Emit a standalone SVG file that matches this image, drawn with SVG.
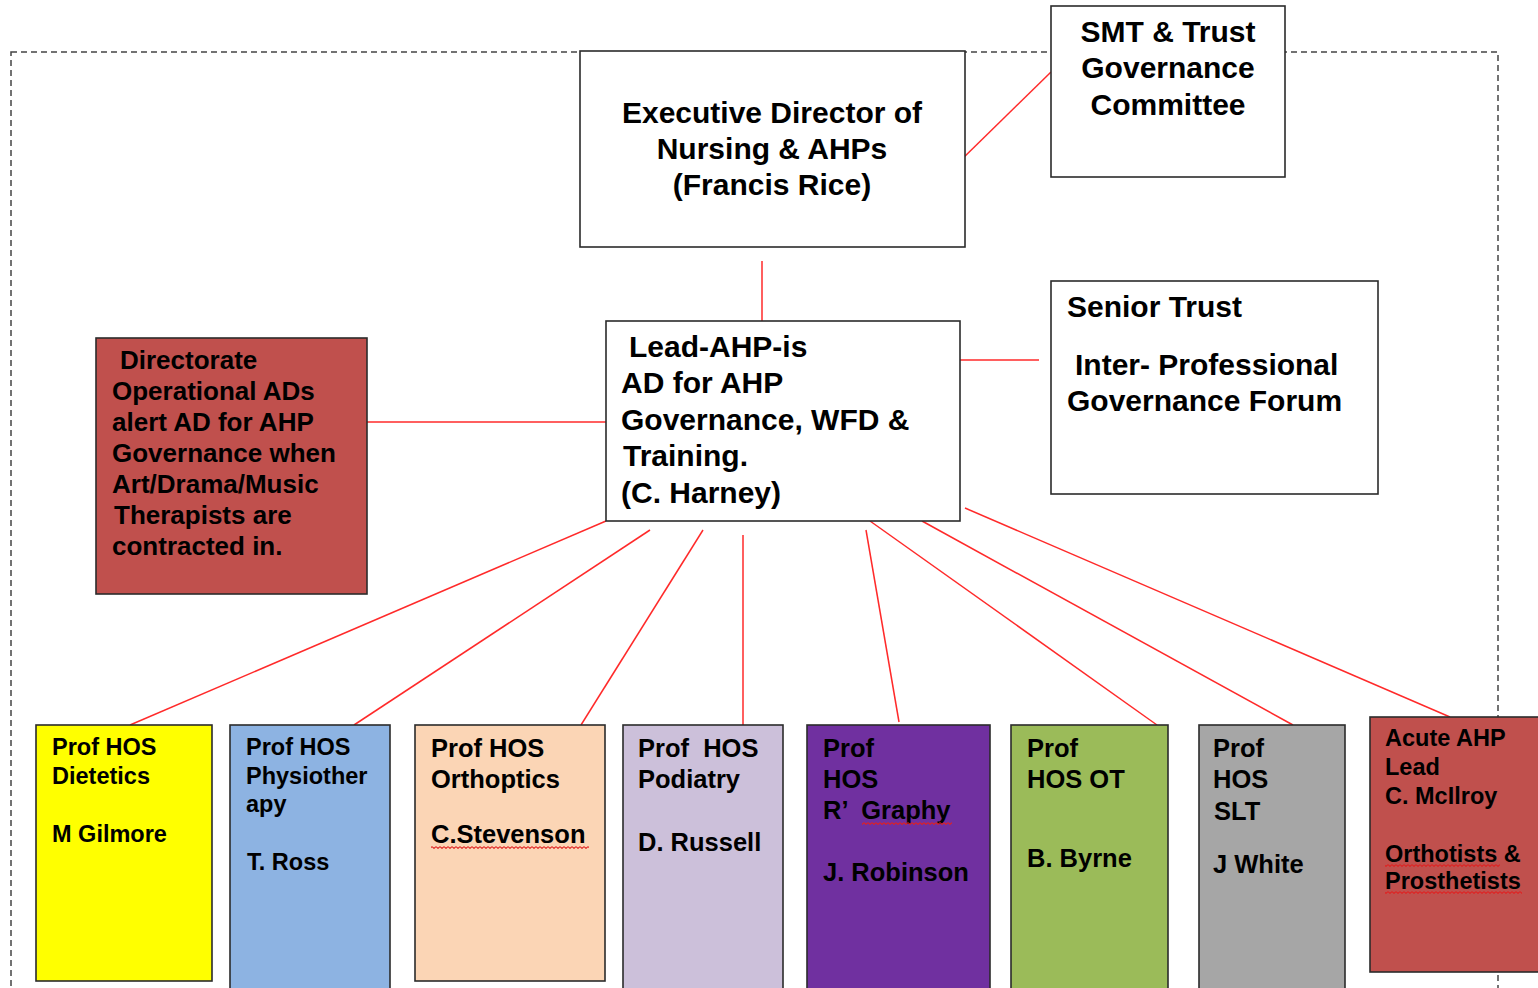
<svg xmlns="http://www.w3.org/2000/svg" width="1538" height="988" viewBox="0 0 1538 988">
<style>
.box{stroke:#2b2b2b;stroke-width:1.6}
.t{font-family:"Liberation Sans",Arial,sans-serif;font-weight:bold;fill:#000}
.big{font-size:30px}
.mid{font-size:26px}
.sm{font-size:23.5px}
.md{font-size:25.5px}
.c{text-anchor:middle}
.con{stroke:#FF2A2A;stroke-width:1.5;fill:none}
.frame{fill:none;stroke:#444;stroke-width:1.5;stroke-dasharray:6 4}
.wavy{fill:url(#wave)}
</style>
<defs>
<pattern id="wave" width="4" height="3" patternUnits="userSpaceOnUse">
<polyline points="0,0.6 2,2.4 4,0.6" fill="none" stroke="#E02020" stroke-width="1.1"/>
</pattern>
</defs>
<rect width="1538" height="988" fill="#fff"/>
<rect class="frame" x="11" y="52" width="1487" height="960"/>

<g id="connectors">
<line class="con" x1="958" y1="163" x2="1051" y2="72"/>
<line class="con" x1="762" y1="261" x2="762" y2="321"/>
<line class="con" x1="960" y1="360" x2="1039" y2="360"/>
<line class="con" x1="367" y1="422" x2="606" y2="422"/>
<line class="con" x1="606" y1="521" x2="130" y2="725"/>
<line class="con" x1="650" y1="530" x2="354" y2="725"/>
<line class="con" x1="703" y1="530" x2="581" y2="725"/>
<line class="con" x1="743" y1="535" x2="743" y2="725"/>
<line class="con" x1="866" y1="530" x2="899" y2="722"/>
<line class="con" x1="870" y1="521" x2="1157" y2="725"/>
<line class="con" x1="922" y1="521" x2="1293" y2="725"/>
<line class="con" x1="965" y1="508" x2="1450" y2="717"/>
</g>

<g id="exec">
<rect class="box" x="580" y="51" width="385" height="196" fill="#fff"/>
<text class="t big c" x="772" y="123">Executive Director of</text>
<text class="t big c" x="772" y="159">Nursing &amp; AHPs</text>
<text class="t big c" x="772" y="195">(Francis Rice)</text>
</g>

<g id="smt">
<rect class="box" x="1051" y="6" width="234" height="171" fill="#fff"/>
<text class="t big c" x="1168" y="42">SMT &amp; Trust</text>
<text class="t big c" x="1168" y="78">Governance</text>
<text class="t big c" x="1168" y="115">Committee</text>
</g>

<g id="lead">
<rect class="box" x="606" y="321" width="354" height="200" fill="#fff"/>
<text class="t big" x="629" y="357">Lead-AHP-is</text>
<text class="t big" x="621" y="393">AD for AHP</text>
<text class="t big" x="621" y="430">Governance, WFD &amp;</text>
<text class="t big" x="623" y="466">Training.</text>
<text class="t big" x="621" y="503">(C. Harney)</text>
</g>

<g id="senior">
<rect class="box" x="1051" y="281" width="327" height="213" fill="#fff"/>
<text class="t big" x="1067" y="317">Senior Trust</text>
<text class="t big" x="1075" y="375">Inter- Professional</text>
<text class="t big" x="1067" y="411">Governance Forum</text>
</g>

<g id="directorate">
<rect class="box" x="96" y="338" width="271" height="256" fill="#C0504D"/>
<text class="t mid" x="120" y="369">Directorate</text>
<text class="t mid" x="112" y="400">Operational ADs</text>
<text class="t mid" x="112" y="431">alert AD for AHP</text>
<text class="t mid" x="112" y="462">Governance when</text>
<text class="t mid" x="112" y="493">Art/Drama/Music</text>
<text class="t mid" x="114" y="524">Therapists are</text>
<text class="t mid" x="112" y="555">contracted in.</text>
</g>

<g id="dietetics">
<rect class="box" x="36" y="725" width="176" height="256" fill="#FFFF00"/>
<text class="t sm" x="52" y="755">Prof HOS</text>
<text class="t sm" x="52" y="784">Dietetics</text>
<text class="t sm" x="52" y="842">M Gilmore</text>
</g>

<g id="physio">
<rect class="box" x="230" y="725" width="160" height="275" fill="#8DB3E2"/>
<text class="t sm" x="246" y="755">Prof HOS</text>
<text class="t sm" x="246" y="784">Physiother</text>
<text class="t sm" x="246" y="812">apy</text>
<text class="t sm" x="247" y="870">T. Ross</text>
</g>

<g id="orthoptics">
<rect class="box" x="415" y="725" width="190" height="256" fill="#FBD5B5"/>
<text class="t md" x="431" y="757">Prof HOS</text>
<text class="t md" x="431" y="788">Orthoptics</text>
<text class="t md" x="431" y="843">C.Stevenson</text>
<rect class="wavy" x="431" y="846" width="158" height="3"/>
</g>

<g id="podiatry">
<rect class="box" x="623" y="725" width="160" height="275" fill="#CCC0DA"/>
<text class="t md" x="638" y="757" xml:space="preserve">Prof  HOS</text>
<text class="t md" x="638" y="788">Podiatry</text>
<text class="t md" x="638" y="851">D. Russell</text>
</g>

<g id="radiography">
<rect class="box" x="807" y="725" width="183" height="275" fill="#7030A0"/>
<text class="t md" x="823" y="757">Prof</text>
<text class="t md" x="823" y="788">HOS</text>
<text class="t md" x="823" y="819" xml:space="preserve">R’  Graphy</text>
<rect class="wavy" x="862" y="822" width="90" height="3"/>
<text class="t md" x="823" y="881">J. Robinson</text>
</g>

<g id="ot">
<rect class="box" x="1011" y="725" width="157" height="275" fill="#9BBB59"/>
<text class="t md" x="1027" y="757">Prof</text>
<text class="t md" x="1027" y="788">HOS OT</text>
<text class="t md" x="1027" y="867">B. Byrne</text>
</g>

<g id="slt">
<rect class="box" x="1199" y="725" width="146" height="275" fill="#A6A6A6"/>
<text class="t md" x="1213" y="757">Prof</text>
<text class="t md" x="1213" y="788">HOS</text>
<text class="t md" x="1214" y="820">SLT</text>
<text class="t md" x="1213" y="873">J White</text>
</g>

<g id="acute">
<rect class="box" x="1370" y="717" width="180" height="255" fill="#C0504D"/>
<text class="t sm" x="1385" y="746">Acute AHP</text>
<text class="t sm" x="1385" y="775">Lead</text>
<text class="t sm" x="1385" y="804">C. McIlroy</text>
<text class="t sm" x="1385" y="862">Orthotists &amp;</text>
<rect class="wavy" x="1385" y="864" width="115" height="3"/>
<text class="t sm" x="1385" y="889">Prosthetists</text>
<rect class="wavy" x="1385" y="891" width="137" height="3"/>
</g>
</svg>
